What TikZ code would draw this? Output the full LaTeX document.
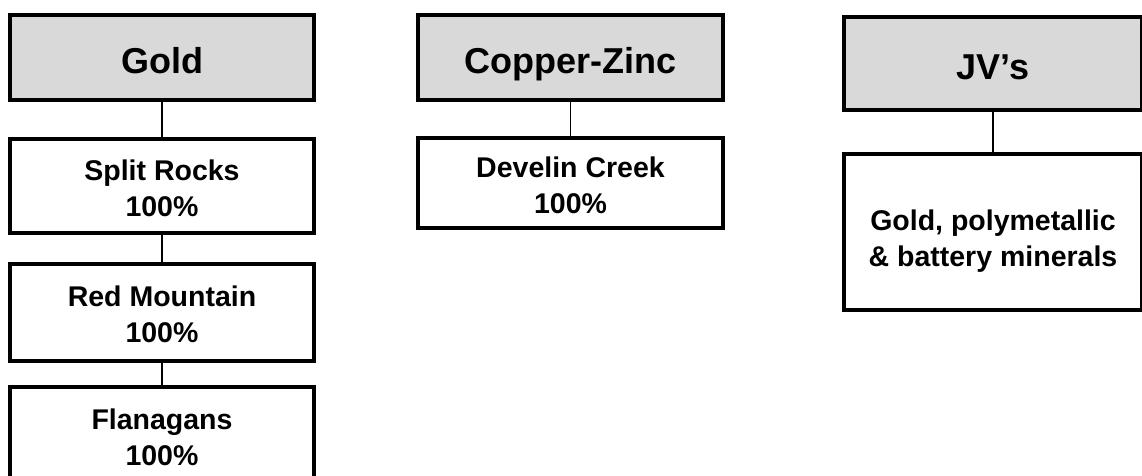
\documentclass[tikz,border=0pt]{standalone}
\usepackage{fontspec}
\setmainfont{Liberation Sans}
\usepackage{tikz}
\definecolor{hdrgray}{HTML}{D9D9D9}
\tikzset{hdr/.style={draw, line width=4pt, fill=hdrgray, align=center, text height=31pt, text depth=0pt, font=\bfseries\fontsize{36}{43}\selectfont},
         unit/.style={draw, line width=4pt, fill=white, align=center, text height=60pt, text depth=0pt, font=\bfseries\fontsize{28.5}{36}\selectfont},
         link/.style={line width=1.3pt}}

\begin{document}
\begin{tikzpicture}[x=1pt,y=-1pt]
\useasboundingbox (0,0) rectangle (1142,475);
% gold column
\node[hdr, minimum width=304pt, minimum height=85pt] (gold) at (162,57.5) {Gold};
\node[unit, minimum width=304pt, minimum height=94pt] (split) at (162,186) {Split Rocks\\100\%};
\node[unit, minimum width=304pt, minimum height=97pt] (red) at (162,312.5) {Red Mountain\\100\%};
\node[unit, minimum width=304pt, minimum height=97pt] (flan) at (162,435.5) {Flanagans\\100\%};
\draw[link] (gold) -- (split);
\draw[link] (split) -- (red);
\draw[link] (red) -- (flan);
% copper-zinc column
\node[hdr, minimum width=305pt, minimum height=85pt] (cuzn) at (570.5,57.5) {Copper-Zinc};
\node[unit, minimum width=305pt, minimum height=90pt] (develin) at (570.5,183) {Develin Creek\\100\%};
\draw[link] (cuzn) -- (develin);
% joint ventures
\node[hdr, minimum width=298pt, minimum height=93pt] (jv) at (993,63.5) {JV’s};
\node[unit, text height=68pt, minimum width=298pt, minimum height=156pt] (jvmin) at (993,232) {Gold, polymetallic\\\& battery minerals};
\draw[link] (jv) -- (jvmin);
\end{tikzpicture}
\end{document}
